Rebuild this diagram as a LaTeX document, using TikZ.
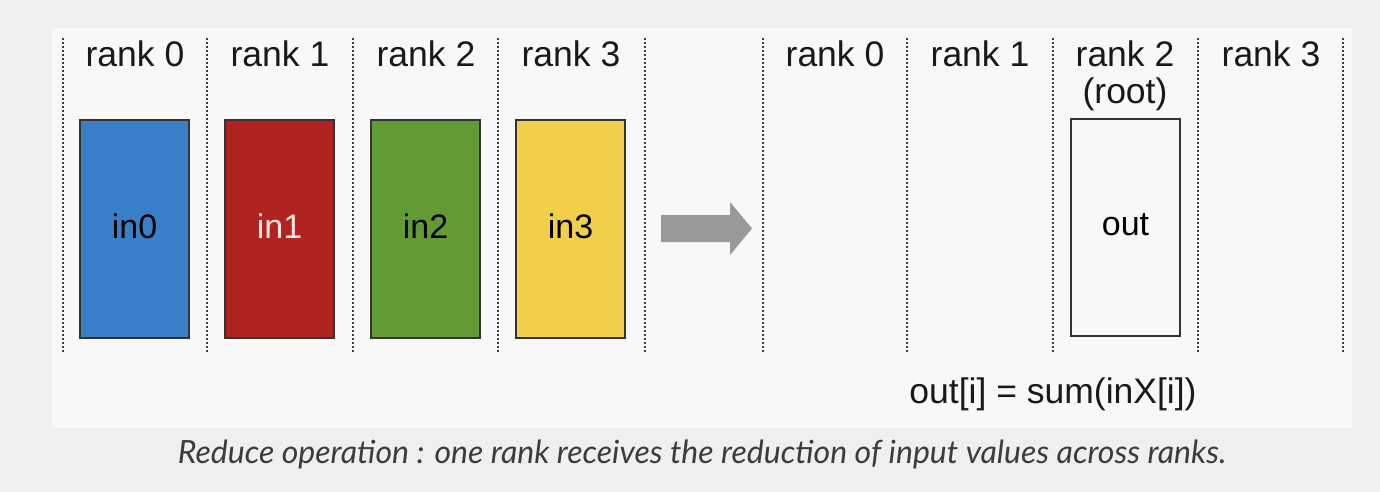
\documentclass[tikz,border=0pt]{standalone}
\usepackage{fontspec}
\setmainfont{Liberation Sans}
\newfontfamily\captionfont{Lato}
\usetikzlibrary{positioning}

\definecolor{pagebg}{HTML}{EFEFEF}
\definecolor{panelbg}{HTML}{F8F8F8}
\definecolor{rankblue}{HTML}{3A80C8}
\definecolor{rankred}{HTML}{B0231F}
\definecolor{rankgreen}{HTML}{629A33}
\definecolor{rankyellow}{HTML}{F2CF4A}
\definecolor{arrowgray}{HTML}{999999}
\definecolor{captiongray}{HTML}{3C3C3C}

\tikzset{
  buf/.style={draw=black!80, line width=1.5pt, minimum width=109pt,
    minimum height=218pt, inner sep=0pt, text depth=6pt,
    font=\fontsize{34}{38}\selectfont},
  ranklabel/.style={font=\fontsize{35.5}{40}\selectfont, align=center, text=black!90},
  ranksep/.style={dash pattern=on 2pt off 2pt, line width=1.6pt, black!75}
}

\begin{document}
\begin{tikzpicture}[x=1pt,y=-1pt]
    \useasboundingbox (0,0) rectangle (1380,492);
    \fill[pagebg] (0,0) rectangle (1380,492);
    \fill[panelbg] (52,28) rectangle (1352,428);

    % separators between ranks
    \foreach \x in {63,207,353,498,645,763,907,1053,1198,1343}
        \draw[ranksep] (\x,38) -- (\x,352);

    % before: one input buffer per rank
    \node[buf, fill=rankblue] (in0) at (134.5,229) {in0};
    \node[buf, fill=rankred, text=white!90!red] (in1) at (279.5,229) {in1};
    \node[buf, fill=rankgreen] (in2) at (425.5,229) {in2};
    \node[buf, fill=rankyellow] (in3) at (570.5,229) {in3};

    \node[ranklabel, anchor=base] (lrank0) at (135,67) {rank 0};
    \node[ranklabel, anchor=base] (lrank1) at (280,67) {rank 1};
    \node[ranklabel, anchor=base] (lrank2) at (426,67) {rank 2};
    \node[ranklabel, anchor=base] (lrank3) at (571,67) {rank 3};

    % step arrow
    \fill[arrowgray] (661,215) -- (730,215) -- (730,202) -- (752,228.5)
        -- (730,255) -- (730,242) -- (661,242) -- cycle;

    % after: result on the root only
    \node[buf, fill=panelbg, minimum height=217pt] (out) at (1125.5,227.5) {out};

    \node[ranklabel, anchor=base] (rrank0) at (835,67) {rank 0};
    \node[ranklabel, anchor=base] (rrank1) at (980,67) {rank 1};
    \node[ranklabel, anchor=base] (rrank2) at (1125,67) {rank 2};
    \node[ranklabel, anchor=base] (rroot) at (1125,103) {(root)};
    \node[ranklabel, anchor=base] (rrank3) at (1271,67) {rank 3};

    \node[ranklabel, anchor=base] (formula) at (1053,403) {out[i] = sum(inX[i])};

    \node[anchor=base, text=captiongray, font=\captionfont\itshape\fontsize{32}{36}\selectfont]
        (caption) at (702,463) {Reduce operation : one rank receives the reduction of input values across ranks.};
\end{tikzpicture}
\end{document}
